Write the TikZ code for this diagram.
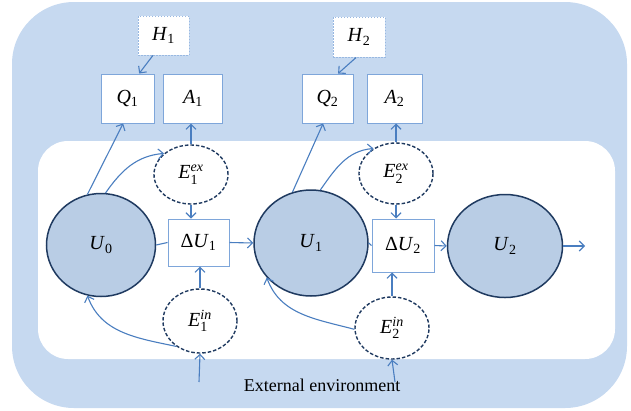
\documentclass[tikz,border=0pt]{standalone}
\usepackage{amsmath}
\usepackage{fontspec}
\setmainfont{Liberation Serif}
\usetikzlibrary{shapes.geometric,arrows.meta}
\definecolor{outerbg}{HTML}{C6D9F0}
\definecolor{ellfill}{HTML}{B9CDE5}
\definecolor{navy}{HTML}{1F3A60}
\definecolor{arr}{HTML}{4A7EC0}
\definecolor{boxline}{HTML}{7EA6DA}
\newcommand\vlab[2]{\textit{#1}$_{\textrm{#2}}$}
\newcommand\elab[2]{\textit{E}$^{\textit{#1}}_{\textrm{#2}}$}
\begin{document}
\begin{tikzpicture}[x=1pt,y=-1pt,
  lbl/.style={font=\fontsize{20}{24}\selectfont},
  ell/.style={ellipse,draw=navy,line width=1.5pt,fill=ellfill,inner sep=0pt,lbl},
  sbox/.style={rectangle,draw=boxline,line width=1pt,fill=white,inner sep=0pt,lbl},
  hbox/.style={rectangle,draw=boxline!80,line width=0.9pt,dash pattern=on 1.5pt off 1.5pt,fill=white,inner sep=0pt,lbl},
  ebub/.style={ellipse,draw=navy,line width=1.4pt,dash pattern=on 3.5pt off 2pt,fill=white,inner sep=0pt,lbl},
  arrw/.style={draw=arr,line width=1.1pt,-{Straight Barb[length=5pt,width=10pt]}},
  link/.style={draw=arr,line width=1.1pt}]
\useasboundingbox (0,0) rectangle (631,410);
\fill[outerbg,rounded corners=62pt] (12,2) rectangle (627,408);
\fill[white,rounded corners=30pt] (38,141) rectangle (615,359);

% main states
\node[ell,minimum width=109pt,minimum height=103pt] (U0) at (101,245) {\vlab{U}{0}};
\node[ell,minimum width=114pt,minimum height=106pt] (U1) at (311,243) {\vlab{U}{1}};
\node[ell,minimum width=115pt,minimum height=103pt] (U2) at (505,246) {\vlab{U}{2}};
\coordinate (out) at (585,246);

% increments
\node[sbox,minimum width=61pt,minimum height=47pt] (dU1) at (198.5,242.5) {\textrm{Δ}\vlab{U}{1}};
\node[sbox,minimum width=62pt,minimum height=53pt] (dU2) at (403,245.5) {\textrm{Δ}\vlab{U}{2}};

% top boxes
\node[sbox,minimum width=53pt,minimum height=49pt] (Q1) at (127.5,98.5) {\vlab{Q}{1}};
\node[sbox,minimum width=59pt,minimum height=49pt] (A1) at (193,98.5) {\vlab{A}{1}};
\node[sbox,minimum width=51pt,minimum height=49pt] (Q2) at (327.5,98.5) {\vlab{Q}{2}};
\node[sbox,minimum width=55pt,minimum height=49pt] (A2) at (394.5,98.5) {\vlab{A}{2}};
\node[hbox,minimum width=51pt,minimum height=39pt] (H1) at (163.5,35.5) {\vlab{H}{1}};
\node[hbox,minimum width=52pt,minimum height=40pt] (H2) at (359,37) {\vlab{H}{2}};

% energy bubbles
\node[ebub,minimum width=74pt,minimum height=59pt] (E1ex) at (191,174.5) {\elab{ex}{1}};
\node[ebub,minimum width=74pt,minimum height=64pt] (E1in) at (200,321) {\elab{in}{1}};
\node[ebub,minimum width=74pt,minimum height=61pt] (E2ex) at (396,173.5) {\elab{ex}{2}};
\node[ebub,minimum width=74pt,minimum height=62pt] (E2in) at (392,328) {\elab{in}{2}};

\coordinate (env1) at (199,382);
\coordinate (env2) at (395,382);

\node[font=\fontsize{18}{21}\selectfont] (envtxt) at (322,385) {External environment};

% connectors
\draw[link] (U0.east) -- (dU1.west);
\draw[arrw] (dU1.east) -- (U1.west);
\draw[link] (U1.east) -- (dU2.west);
\draw[arrw] (dU2.east) -- (U2.west);
\draw[arrw] (U2.east) -- (out);

\draw[arrw] (E1ex.south) -- (E1ex.south |- dU1.north);
\draw[arrw] (E1in.north) -- (E1in.north |- dU1.south);
\draw[arrw] (E2ex.south) -- (E2ex.south |- dU2.north);
\draw[arrw] (E2in.north) -- (E2in.north |- dU2.south);

\draw[arrw] (env1) -- (E1in.south);
\draw[arrw] (env2) -- (E2in.south);

\draw[arrw] (E1ex.north) -- (E1ex.north |- A1.south);
\draw[arrw] (E2ex.north) -- (E2ex.north |- A2.south);

\draw[arrw] (U0.105) -- (Q1.260);
\draw[arrw] (U1.110) -- (Q2.260);
\draw[arrw] (H1.242) -- (Q1.65);
\draw[arrw] (H2.262) -- (Q2.67);

\draw[arrw] (U0.85) to[out=55,in=185] (E1ex.142);
\draw[arrw] (U1.80) to[out=55,in=185] (E2ex.132);
\draw[arrw] (E1in.227) to[out=168,in=-70] (U0.255);
\draw[arrw] (E2in.182) to[out=165,in=-70] (U1.218);
\end{tikzpicture}
\end{document}
